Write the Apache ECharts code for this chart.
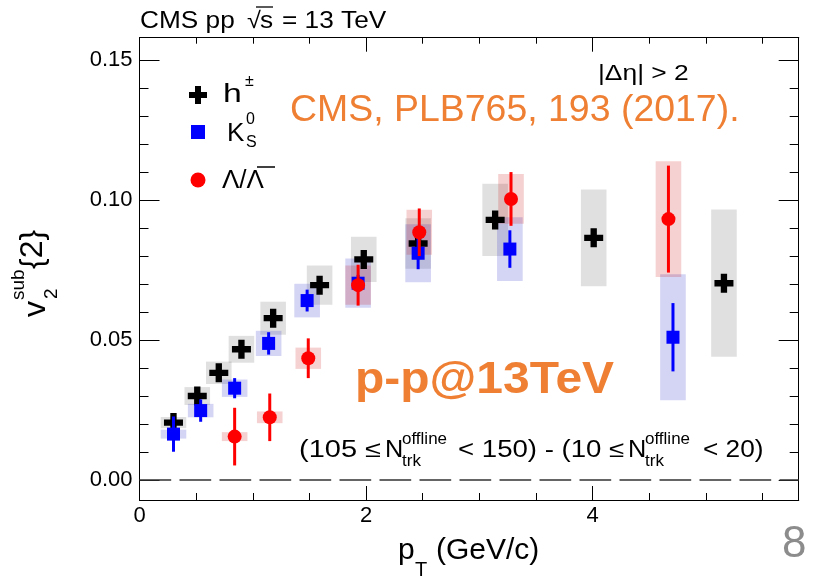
<!DOCTYPE html>
<html><head><meta charset="utf-8">
<script src="https://cdn.jsdelivr.net/npm/echarts@6/dist/echarts.min.js"></script>
<style>html,body{margin:0;padding:0;background:#fff}#c{width:820px;height:584px}</style>
</head><body><div id="c"></div>
<script>
// Charged hadrons h±: pT (GeV/c), v2sub{2}, stat. and syst. uncertainties
const hPt   = [0.30, 0.51, 0.70, 0.90, 1.18, 1.59, 1.98, 2.46, 3.14, 4.01, 5.16];
const hV2   = [0.0205, 0.0300, 0.0383, 0.0467, 0.0578, 0.0696, 0.0788, 0.0845, 0.0929, 0.0865, 0.0703];
const hStat = [0.0005, 0.0005, 0.0005, 0.0005, 0.0005, 0.0006, 0.0007, 0.0008, 0.0010, 0.0012, 0.0015];
const hSys  = [0.0020, 0.0032, 0.0040, 0.0048, 0.0059, 0.0070, 0.0081, 0.0090, 0.0129, 0.0173, 0.0263];

// K0S
const kPt   = [0.30, 0.54, 0.84, 1.14, 1.48, 1.93, 2.46, 3.27, 4.71];
const kV2   = [0.0164, 0.0248, 0.0328, 0.0488, 0.0641, 0.0703, 0.0810, 0.0825, 0.0510];
const kStat = [0.0063, 0.0040, 0.0036, 0.0040, 0.0039, 0.0030, 0.0057, 0.0067, 0.0122];
const kSys  = [0.0016, 0.0024, 0.0031, 0.0045, 0.0060, 0.0088, 0.0104, 0.0114, 0.0225];

// Lambda / anti-Lambda
const lPt   = [0.84, 1.15, 1.49, 1.93, 2.47, 3.28, 4.67];
const lV2   = [0.0155, 0.0224, 0.0435, 0.0696, 0.0885, 0.1004, 0.0932];
const lStat = [0.0103, 0.0085, 0.0071, 0.0073, 0.0085, 0.0096, 0.0191];
const lSys  = [0.0016, 0.0021, 0.0038, 0.0070, 0.0080, 0.0089, 0.0207];

// Axis ranges and tick values
const xRange = [0, 5.82];
const yRange = [-0.00714, 0.158];
const xMajorTicks = [0, 2, 4];
const xMinorTicks = [0.5, 1, 1.5, 2.5, 3, 3.5, 4.5, 5, 5.5];
const yMajorTicks = [0, 0.05, 0.10, 0.15];
const yMinorTicks = [0.01, 0.02, 0.03, 0.04, 0.06, 0.07, 0.08, 0.09, 0.11, 0.12, 0.13, 0.14];

const FONT = "'Liberation Sans', Arial, sans-serif";
const ORANGE = '#EE7F33';
const BOX_HALF_WIDTH = 0.113;   // half width of systematic boxes, in GeV/c
const CROSS = 'path://M1,0H2V1H3V2H2V3H1V2H0V1H1Z';

const zip = (a, b, c) => a.map((v, i) => [v, b[i], c[i]]);

function boxItem(color) {
  return function (params, api) {
    const x = api.value(0), y = api.value(1), s = api.value(2);
    const p1 = api.coord([x - BOX_HALF_WIDTH, y + s]);
    const p2 = api.coord([x + BOX_HALF_WIDTH, y - s]);
    return { type: 'rect', shape: { x: p1[0], y: p1[1], width: p2[0] - p1[0], height: p2[1] - p1[1] },
             style: { fill: color } };
  };
}
function errItem(color) {
  return function (params, api) {
    const x = api.value(0), y = api.value(1), e = api.value(2);
    const a = api.coord([x, y + e]), b = api.coord([x, y - e]);
    return { type: 'line', shape: { x1: a[0], y1: a[1], x2: b[0], y2: b[1] },
             style: { stroke: color, lineWidth: 3 } };
  };
}

function xAxisDef(pos, values, len, labels) {
  return {
    type: 'value', position: pos, min: xRange[0], max: xRange[1],
    axisLine: { show: true, onZero: false, lineStyle: { color: '#000', width: 1 } },
    axisTick: { show: true, inside: true, length: len, customValues: values, lineStyle: { color: '#000' } },
    axisLabel: labels ? { show: true, customValues: values, fontFamily: FONT, fontSize: 22, color: '#000', margin: 5 }
                      : { show: false },
    splitLine: { show: false }
  };
}
function yAxisDef(pos, values, len, labels) {
  return {
    type: 'value', position: pos, min: yRange[0], max: yRange[1],
    axisLine: { show: true, onZero: false, lineStyle: { color: '#000', width: 1 } },
    axisTick: { show: true, inside: true, length: len, customValues: values, lineStyle: { color: '#000' } },
    axisLabel: labels ? { show: true, customValues: values, fontFamily: FONT, fontSize: 22, color: '#000', margin: 7,
                          formatter: v => v.toFixed(2) }
                      : { show: false },
    splitLine: { show: false }
  };
}

// plain text element; sx stretches it horizontally
const txt = (x, y, text, size, sx, extra) => ({
  type: 'text', x, y, scaleX: sx || 1, silent: true,
  style: Object.assign({ text, fontFamily: FONT, fontSize: size, fill: '#000', verticalAlign: 'middle', align: 'left' }, extra || {})
});
const bar = (x1, x2, y, w) => ({ type: 'line', silent: true, shape: { x1, y1: y, x2, y2: y }, style: { stroke: '#000', lineWidth: w || 1.2 } });

const chart = echarts.init(document.getElementById('c'), null, { renderer: 'canvas' });
chart.setOption({
  animation: false,
  backgroundColor: '#fff',
  grid: { left: 139.5, right: 21.3, top: 37.7, bottom: 84, containLabel: false },
  xAxis: [
    xAxisDef('bottom', xMajorTicks, 14, true),
    xAxisDef('bottom', xMinorTicks, 7, false),
    xAxisDef('top', xMajorTicks, 14, false),
    xAxisDef('top', xMinorTicks, 6, false)
  ],
  yAxis: [
    yAxisDef('left', yMajorTicks, 20, true),
    yAxisDef('left', yMinorTicks, 9, false),
    yAxisDef('right', yMajorTicks, 20, false),
    yAxisDef('right', yMinorTicks, 9, false)
  ],
  legend: [
    { data: ['h±'], left: 189, top: 86, itemWidth: 18, itemHeight: 18, padding: 0, formatter: () => '', selectedMode: false },
    { data: ['K0S'], left: 191, top: 125, itemWidth: 14, itemHeight: 14, padding: 0, formatter: () => '', selectedMode: false },
    { data: ['Λ'], left: 190.5, top: 172.5, itemWidth: 15, itemHeight: 15, padding: 0, formatter: () => '', selectedMode: false }
  ],
  series: [
    { type: 'line', name: 'zero', data: [[xRange[0], 0], [xRange[1], 0]], symbol: 'none', silent: true,
      lineStyle: { color: '#333', width: 1.5, type: [31.7, 8.3] }, z: 1 },
    { type: 'custom', name: 'hSys', data: zip(hPt, hV2, hSys), renderItem: boxItem('rgba(0,0,0,0.12)'), encode: { x: 0, y: 1 }, z: 2 },
    { type: 'custom', name: 'kSys', data: zip(kPt, kV2, kSys), renderItem: boxItem('rgba(40,40,200,0.2)'), encode: { x: 0, y: 1 }, z: 2 },
    { type: 'custom', name: 'lSys', data: zip(lPt, lV2, lSys), renderItem: boxItem('rgba(200,0,0,0.18)'), encode: { x: 0, y: 1 }, z: 2 },
    { type: 'custom', name: 'hStat', data: zip(hPt, hV2, hStat), renderItem: errItem('#000'), encode: { x: 0, y: 1 }, z: 3 },
    { type: 'scatter', name: 'h±', data: hPt.map((x, i) => [x, hV2[i]]), symbol: CROSS, symbolSize: 19,
      itemStyle: { color: '#000', opacity: 1 }, z: 4 },
    { type: 'custom', name: 'kStat', data: zip(kPt, kV2, kStat), renderItem: errItem('#0000ff'), encode: { x: 0, y: 1 }, z: 5 },
    { type: 'scatter', name: 'K0S', data: kPt.map((x, i) => [x, kV2[i]]), symbol: 'rect', symbolSize: 13,
      itemStyle: { color: '#0000ff', opacity: 1 }, z: 6 },
    { type: 'custom', name: 'lStat', data: zip(lPt, lV2, lStat), renderItem: errItem('#ff0000'), encode: { x: 0, y: 1 }, z: 7 },
    { type: 'scatter', name: 'Λ', data: lPt.map((x, i) => [x, lV2[i]]), symbol: 'circle', symbolSize: 14,
      itemStyle: { color: '#ff0000', opacity: 1 }, z: 8 }
  ],
  graphic: [
    // header: CMS pp sqrt(s) = 13 TeV
    txt(140, 22, 'CMS pp', 23, 1.14),
    txt(247, 22, '√', 23, 1.1),
    txt(260, 22, 's', 23, 1.14),
    bar(256, 273, 7, 1.3),
    txt(282, 22, '= 13 TeV', 23, 1.14),
    txt(598, 74, '|Δη| > 2', 22, 1.2),
    txt(290, 111, 'CMS, PLB765, 193 (2017).', 36, 1.04, { fill: ORANGE }),
    txt(355, 381, 'p-p@13TeV', 44, 1.09, { fill: ORANGE, fontWeight: 'bold' }),
    txt(782, 545, '8', 44, 1, { fill: '#8c8c8c' }),
    // legend labels
    txt(223, 95, 'h', 26, 1.3),
    txt(245, 82, '±', 16),
    txt(227, 134, 'K', 26),
    txt(246, 120, '0', 16),
    txt(246, 143, 'S', 16),
    txt(222, 181, 'Λ/Λ', 26),
    bar(257, 275, 167, 1.5),
    // multiplicity selection
    txt(299, 451, '(105 ≤', 23, 1.26),
    txt(385, 451, 'N', 23, 1.1),
    txt(402, 439, 'offline', 17),
    txt(402, 461, 'trk', 17),
    txt(458, 451, '< 150) - (10 ≤', 23, 1.2),
    txt(628, 451, 'N', 23, 1.1),
    txt(645, 439, 'offline', 17),
    txt(645, 461, 'trk', 17),
    txt(703, 451, '< 20)', 23, 1.14),
    // x title
    txt(398, 551, 'p', 30),
    txt(415, 570, 'T', 20),
    txt(436, 551, '(GeV/c)', 30),
    // y title
    {
      type: 'group', x: 45, y: 317, rotation: Math.PI / 2,
      children: [
        txt(0, -9, 'v', 32),
        txt(17, -26, 'sub', 19),
        txt(18, 7, '2', 19),
        txt(48, -12, '{2}', 32)
      ]
    }
  ]
});
</script></body></html>
